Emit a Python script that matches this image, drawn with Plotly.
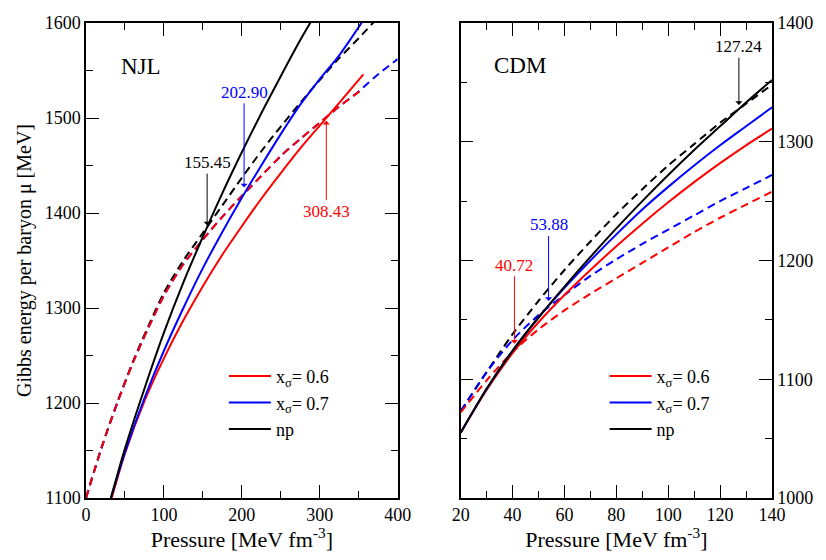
import plotly.graph_objects as go

# ---------------- data: NJL (left panel) ----------------
P_njl_black = [32, 50, 75, 100, 125, 150, 175, 200, 225, 250, 275, 292]
mu_njl_black = [1100, 1152, 1215, 1274, 1327, 1375, 1421, 1464, 1505, 1544, 1582, 1606]
P_njl_black_d = [0, 20, 40, 60, 80, 100, 125, 150, 175, 200, 225, 250, 275, 300, 325, 350, 375]
mu_njl_black_d = [1100, 1153, 1200, 1243, 1281, 1316, 1350, 1379, 1408, 1437, 1465, 1491, 1516, 1540, 1563, 1584, 1606]
P_njl_blue = [32, 50, 75, 100, 125, 150, 175, 200, 225, 250, 275, 300, 325, 356]
mu_njl_blue = [1100, 1148, 1205, 1255, 1300, 1342, 1380, 1416, 1450, 1483, 1514, 1541, 1566, 1603]
P_njl_blue_d = [0, 20, 40, 60, 80, 100, 125, 150, 175, 200, 225, 250, 275, 300, 325, 350, 375, 400]
mu_njl_blue_d = [1100, 1153, 1200, 1242, 1279, 1313, 1346, 1372, 1396, 1418, 1439, 1460, 1478, 1495, 1512, 1528, 1546, 1562]
P_njl_red = [33, 50, 75, 100, 125, 150, 175, 200, 225, 250, 275, 300, 325, 356]
mu_njl_red = [1100, 1147, 1202, 1247, 1287, 1323, 1356, 1386, 1415, 1442, 1468, 1492, 1516, 1546]
P_njl_red_d = [0, 20, 40, 60, 80, 100, 125, 150, 175, 200, 225, 250, 275, 300, 325, 356]
mu_njl_red_d = [1100, 1153, 1200, 1242, 1279, 1313, 1346, 1372, 1396, 1418, 1439, 1460, 1478, 1495, 1512, 1531]

# ---------------- data: CDM (right panel) ----------------
P_cdm = [20, 30, 40, 50, 60, 70, 80, 90, 100, 110, 120, 130, 140]
mu_cdm_black = [1055, 1092, 1124, 1152, 1178, 1203, 1227, 1250, 1272, 1293, 1313, 1333, 1352]
mu_cdm_black_d = [1073, 1106, 1138, 1166, 1192, 1216, 1239, 1260, 1280, 1298, 1316, 1332, 1348]
mu_cdm_blue = [1055, 1092, 1124, 1152, 1177, 1200, 1222, 1243, 1262, 1280, 1297, 1313, 1329]
mu_cdm_blue_d = [1073, 1106, 1133, 1154, 1171, 1187, 1201, 1214, 1226, 1238, 1250, 1261, 1272]
mu_cdm_red = [1055, 1091, 1122, 1148, 1171, 1192, 1212, 1231, 1249, 1266, 1282, 1297, 1311]
mu_cdm_red_d = [1072, 1099, 1123, 1142, 1158, 1172, 1185, 1198, 1211, 1224, 1236, 1247, 1258]

legend_names = ["x<sub>σ</sub>= 0.6", "x<sub>σ</sub>= 0.7", "np"]
njl_marks = [155.45, 202.90, 308.43]
cdm_marks = [127.24, 53.88, 40.72]

RED, BLUE, BLACK = "#ff0000", "#0000ff", "#000000"
FONT = "Liberation Serif, Times New Roman, DejaVu Serif, serif"
LW = 2
DASH = "8px,5px"

fig = go.Figure()

def add(x, y, color, dash, xa, ya, name=None, legend=None):
    fig.add_trace(go.Scatter(
        x=x, y=y, mode="lines", line=dict(color=color, width=LW, dash=dash, shape="spline", smoothing=0.8),
        xaxis=xa, yaxis=ya, name=name if name else "", showlegend=name is not None,
        legend=legend if legend else "legend", hoverinfo="skip"))

# left panel
add(P_njl_black_d, mu_njl_black_d, BLACK, DASH, "x", "y")
add(P_njl_blue_d, mu_njl_blue_d, BLUE, DASH, "x", "y")
add(P_njl_red_d, mu_njl_red_d, RED, DASH, "x", "y")
add(P_njl_red, mu_njl_red, RED, "solid", "x", "y", legend_names[0], "legend")
add(P_njl_blue, mu_njl_blue, BLUE, "solid", "x", "y", legend_names[1], "legend")
add(P_njl_black, mu_njl_black, BLACK, "solid", "x", "y", legend_names[2], "legend")

# right panel
add(P_cdm, mu_cdm_black_d, BLACK, DASH, "x2", "y2")
add(P_cdm, mu_cdm_blue_d, BLUE, DASH, "x2", "y2")
add(P_cdm, mu_cdm_red_d, RED, DASH, "x2", "y2")
add(P_cdm, mu_cdm_red, RED, "solid", "x2", "y2", legend_names[0], "legend2")
add(P_cdm, mu_cdm_blue, BLUE, "solid", "x2", "y2", legend_names[1], "legend2")
add(P_cdm, mu_cdm_black, BLACK, "solid", "x2", "y2", legend_names[2], "legend2")

tickfont = dict(family=FONT, size=18, color="black")
common_ax = dict(showline=True, linecolor="black", linewidth=1.5, mirror="allticks", ticks="inside",
                 ticklen=13, tickwidth=1.2, tickcolor="black", showgrid=False, zeroline=False,
                 tickfont=tickfont, ticklabeloverflow="allow")
minor = lambda d: dict(dtick=d, ticklen=7, ticks="inside", tickcolor="black", tickwidth=1.2)

# page body has an 8px margin: figure is sized/shifted to compensate
fig.update_layout(
    width=810, height=544,
    margin=dict(l=78, r=43, t=5, b=54),
    paper_bgcolor="white", plot_bgcolor="white",
    font=dict(family=FONT, color="black"),
    xaxis=dict(domain=[0, 0.4543], range=[0, 400], dtick=100, tick0=0, minor=minor(50),
               title=dict(text="Pressure [MeV fm<sup>-3</sup>]", font=dict(family=FONT, size=22), standoff=2),
               **common_ax),
    yaxis=dict(domain=[0, 1], range=[1100, 1600], dtick=100, tick0=1100, minor=minor(50),
               title=dict(text="Gibbs energy per baryon μ [MeV]", font=dict(family=FONT, size=20), standoff=8),
               **common_ax),
    xaxis2=dict(domain=[0.5462, 1], range=[20, 140], dtick=20, tick0=20, anchor="y2", minor=minor(10),
                title=dict(text="Pressure [MeV fm<sup>-3</sup>]", font=dict(family=FONT, size=22), standoff=2),
                **common_ax),
    yaxis2=dict(domain=[0, 1], range=[1000, 1400], dtick=100, tick0=1000, anchor="x2", side="right",
                minor=minor(50), **common_ax),
    legend=dict(x=0.201, y=0.295, xanchor="left", yanchor="top", bgcolor="rgba(0,0,0,0)",
                font=dict(family=FONT, size=18), tracegroupgap=0, itemwidth=42),
    legend2=dict(x=0.756, y=0.295, xanchor="left", yanchor="top", bgcolor="rgba(0,0,0,0)",
                 font=dict(family=FONT, size=18), tracegroupgap=0, itemwidth=42),
    showlegend=True,
)

ann_font = dict(family=FONT, size=17)
anns = [
    dict(x=70, y=1554, xref="x", yref="y", text="NJL", showarrow=False, font=dict(family=FONT, size=23)),
    dict(x=43, y=1364, xref="x2", yref="y2", text="CDM", showarrow=False, font=dict(family=FONT, size=23)),
    dict(x=njl_marks[0], y=1387, ax=njl_marks[0], ay=1453, xref="x", yref="y", axref="x", ayref="y",
         text=f"{njl_marks[0]:.2f}", font=dict(ann_font, color=BLACK), arrowcolor=BLACK,
         showarrow=True, arrowhead=1, arrowsize=1.2, arrowwidth=1),
    dict(x=njl_marks[1], y=1427, ax=njl_marks[1], ay=1527, xref="x", yref="y", axref="x", ayref="y",
         text=f"{njl_marks[1]:.2f}", font=dict(ann_font, color=BLUE), arrowcolor=BLUE,
         showarrow=True, arrowhead=1, arrowsize=1.2, arrowwidth=1),
    dict(x=njl_marks[2], y=1497, ax=njl_marks[2], ay=1402, xref="x", yref="y", axref="x", ayref="y",
         text=f"{njl_marks[2]:.2f}", font=dict(ann_font, color=RED), arrowcolor=RED,
         showarrow=True, arrowhead=1, arrowsize=1.2, arrowwidth=1),
    dict(x=cdm_marks[0], y=1331, ax=cdm_marks[0], ay=1380, xref="x2", yref="y2", axref="x2", ayref="y2",
         text=f"{cdm_marks[0]:.2f}", font=dict(ann_font, color=BLACK), arrowcolor=BLACK,
         showarrow=True, arrowhead=1, arrowsize=1.2, arrowwidth=1),
    dict(x=cdm_marks[1], y=1166, ax=cdm_marks[1], ay=1230, xref="x2", yref="y2", axref="x2", ayref="y2",
         text=f"{cdm_marks[1]:.2f}", font=dict(ann_font, color=BLUE), arrowcolor=BLUE,
         showarrow=True, arrowhead=1, arrowsize=1.2, arrowwidth=1),
    dict(x=cdm_marks[2], y=1130, ax=cdm_marks[2], ay=1196, xref="x2", yref="y2", axref="x2", ayref="y2",
         text=f"{cdm_marks[2]:.2f}", font=dict(ann_font, color=RED), arrowcolor=RED,
         showarrow=True, arrowhead=1, arrowsize=1.2, arrowwidth=1),
]
fig.update_layout(annotations=anns)

fig.write_html("out.html")
